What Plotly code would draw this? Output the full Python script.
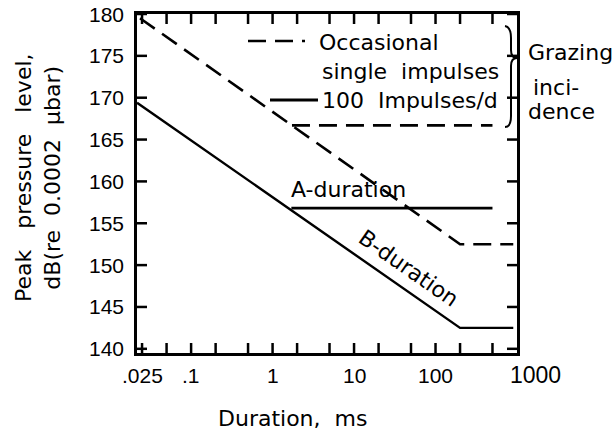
import math
import plotly.graph_objects as go

# ---- data ----
occ_b_x = [0.0236, 200, 900]
occ_b_y = [179.5, 152.5, 152.5]
occ_a_x = [1.73, 500]
occ_a_y = [166.7, 166.7]
imp_b_x = [0.0217, 200, 900]
imp_b_y = [169.4, 142.5, 142.5]
imp_a_x = [1.7, 500]
imp_a_y = [156.8, 156.8]

x_tickvals = [0.025, 0.05, 0.1, 0.2, 0.5, 1, 2, 5, 10, 20, 50, 100, 200, 500]
x_ticktext = [".025", "", ".1", "", "", "1", "", "", "10", "", "", "100", "", ""]
y_tickvals = [140, 145, 150, 155, 160, 165, 170, 175, 180]

W, H = 615, 431
L, R, T, B = 137, 98, 14, 78
PW, PH = W - L - R, H - T - B
XR = [-1.664, 3]
YR = [139.5, 180]

def px(x):
    return (x - L) / PW

def py(y):
    return (H - B - y) / PH

def xfrac(v):
    return (math.log10(v) - XR[0]) / (XR[1] - XR[0])

def yfrac(v):
    return (v - YR[0]) / (YR[1] - YR[0])

DASH = "18px,9px"
TXT = dict(family="DejaVu Sans", size=22, color="black")
TICKF = dict(family="Liberation Sans", size=21, color="black")

fig = go.Figure()
fig.add_trace(go.Scatter(x=occ_b_x, y=occ_b_y, mode="lines",
                         line=dict(color="black", width=2.6, dash=DASH)))
fig.add_trace(go.Scatter(x=occ_a_x, y=occ_a_y, mode="lines",
                         line=dict(color="black", width=2.6, dash=DASH)))
fig.add_trace(go.Scatter(x=imp_b_x, y=imp_b_y, mode="lines",
                         line=dict(color="black", width=2.4)))
fig.add_trace(go.Scatter(x=imp_a_x, y=imp_a_y, mode="lines",
                         line=dict(color="black", width=2.8)))

TLX = 10 / PW   # tick length as a paper fraction (horizontal)
TLY = 10 / PH   # tick length as a paper fraction (vertical)
TICKLINE = dict(color="black", width=2.5)
shapes = []
# inward tick marks on all four sides, placed from the tick value arrays
for v in x_tickvals:
    f = xfrac(v)
    shapes.append(dict(type="line", xref="paper", yref="paper", x0=f, x1=f,
                       y0=0, y1=TLY, line=TICKLINE))
    shapes.append(dict(type="line", xref="paper", yref="paper", x0=f, x1=f,
                       y0=1, y1=1 - TLY, line=TICKLINE))
for v in y_tickvals:
    f = yfrac(v)
    shapes.append(dict(type="line", xref="paper", yref="paper", y0=f, y1=f,
                       x0=0, x1=TLX, line=TICKLINE))
    shapes.append(dict(type="line", xref="paper", yref="paper", y0=f, y1=f,
                       x0=1, x1=1 - TLX, line=TICKLINE))

shapes += [
    dict(type="line", xref="paper", yref="paper", x0=px(248), x1=px(305), y0=py(41), y1=py(41),
         line=dict(color="black", width=2.6, dash=DASH)),
    dict(type="line", xref="paper", yref="paper", x0=px(270), x1=px(318), y0=py(100), y1=py(100),
         line=dict(color="black", width=2.8)),
]
# curly brace
pts = [("M", 505, 26), ("Q", 511, 27, 511, 38), ("L", 511, 50), ("Q", 511, 58, 517, 58),
       ("Q", 511, 58, 511, 66), ("L", 511, 116), ("Q", 511, 127, 505, 127)]
path = ""
for p in pts:
    cmd = p[0]
    coords = p[1:]
    s = []
    for i in range(0, len(coords), 2):
        s.append(f"{px(coords[i]):.5f},{py(coords[i+1]):.5f}")
    path += cmd + " " + " ".join(s) + " "
shapes.append(dict(type="path", xref="paper", yref="paper", path=path.strip(),
                   line=dict(color="black", width=2)))

ann = []
def pann(text, x, y, xanchor="left", font=TXT, angle=0):
    ann.append(dict(text=text, xref="paper", yref="paper", x=px(x), y=py(y),
                    xanchor=xanchor, yanchor="middle", showarrow=False, font=font,
                    textangle=angle))

# tick labels, from the tick arrays
for v, t in zip(x_tickvals, x_ticktext):
    if t:
        ann.append(dict(text=t, xref="x", x=math.log10(v), yref="paper", y=py(375),
                        xanchor="center", yanchor="middle", showarrow=False, font=TICKF))
for v in y_tickvals:
    ann.append(dict(text=str(v), xref="paper", x=px(126), yref="y", y=v,
                    xanchor="right", yanchor="middle", showarrow=False, font=TICKF))

pann("Occasional", 317, 42)
pann("single\u00a0 impulses", 320, 71)
pann("100\u00a0 Impulses/d", 320, 101)
pann("Grazing", 526, 53)
pann("inci-", 531, 88)
pann("dence", 526, 112)
pann("A-duration", 348, 189, xanchor="center")
pann("B-duration", 409, 268, xanchor="center", angle=35)
pann("1000", 535, 375, xanchor="center", font=dict(family="Liberation Sans", size=23, color="black"))
pann("Duration,\u00a0 ms", 292, 418, xanchor="center")
pann("Peak\u00a0\u00a0 pressure\u00a0\u00a0 level,<br>dB(re\u00a0 0.0002\u00a0 \u03bcbar)", 38, 178,
     xanchor="center", angle=-90)

ax_common = dict(ticks="", showline=True, linecolor="black", linewidth=2.5, mirror=True,
                 showgrid=False, zeroline=False, showticklabels=False)

fig.update_layout(
    width=W, height=H, margin=dict(l=L, r=R, t=T, b=B),
    paper_bgcolor="white", plot_bgcolor="white", showlegend=False,
    shapes=shapes, annotations=ann,
    xaxis=dict(type="log", range=XR, **ax_common),
    yaxis=dict(range=YR, **ax_common),
)

fig.write_html("out.html")
